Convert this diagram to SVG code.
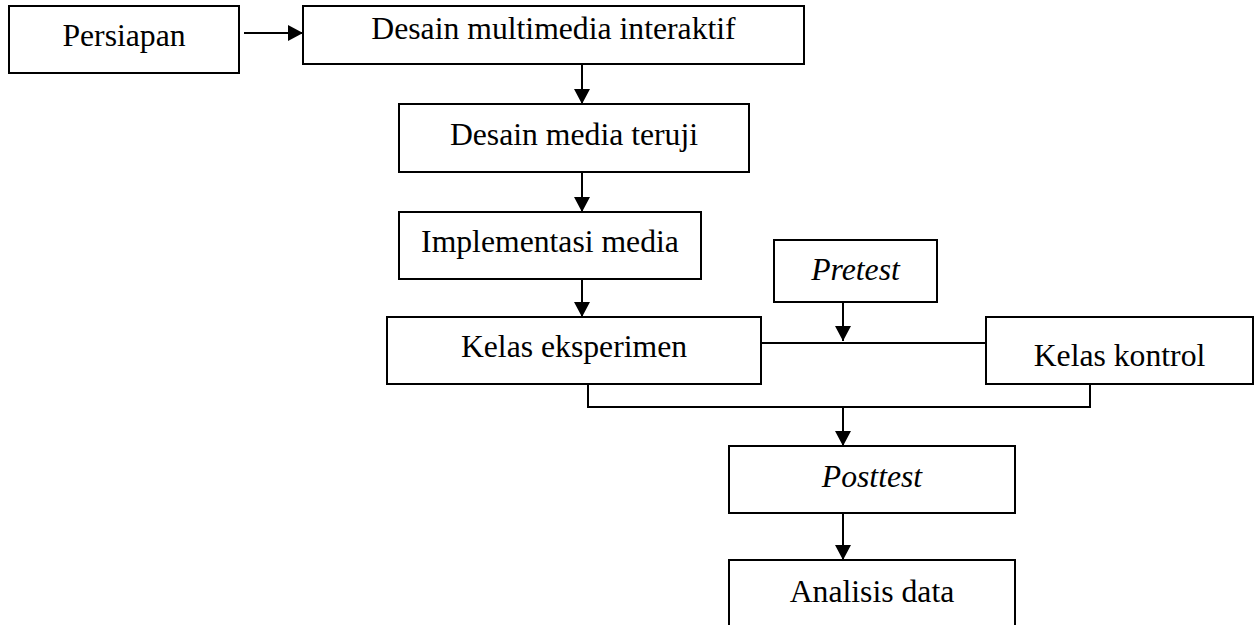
<svg xmlns="http://www.w3.org/2000/svg" width="1257" height="625" viewBox="0 0 1257 625">
<style>
.box{fill:#fff;stroke:#000;stroke-width:2}
.t{font-family:"Liberation Serif","Times New Roman",serif;font-size:31.7px;fill:#000;text-anchor:middle}
.i{font-style:italic}
.c{fill:none;stroke:#000;stroke-width:2}
</style>
<defs>
<marker id="ah" markerUnits="userSpaceOnUse" markerWidth="15" markerHeight="16" refX="15" refY="8" orient="auto">
<path d="M0,0 L15,8 L0,16 z" fill="#000"/>
</marker>
</defs>
<rect width="1257" height="625" fill="#fff"/>
<g id="connectors">
<line class="c" x1="244" y1="33" x2="303" y2="33" marker-end="url(#ah)"/>
<line class="c" x1="582" y1="64" x2="582" y2="104" marker-end="url(#ah)"/>
<line class="c" x1="582" y1="172" x2="582" y2="212" marker-end="url(#ah)"/>
<line class="c" x1="582" y1="279" x2="582" y2="317" marker-end="url(#ah)"/>
<line class="c" x1="761" y1="343" x2="986" y2="343"/>
<line class="c" x1="843" y1="302" x2="843" y2="341" marker-end="url(#ah)"/>
<path class="c" d="M588,384 V407 H1090 V384"/>
<line class="c" x1="843" y1="407" x2="843" y2="446" marker-end="url(#ah)"/>
<line class="c" x1="843" y1="513" x2="843" y2="560" marker-end="url(#ah)"/>
</g>
<g id="persiapan"><rect class="box" x="9" y="6" width="230" height="67"/><text class="t" x="124" y="46">Persiapan</text></g>
<g id="desain-multimedia"><rect class="box" x="303" y="6" width="501" height="58"/><text class="t" x="553.5" y="39">Desain multimedia interaktif</text></g>
<g id="desain-media"><rect class="box" x="399" y="104" width="350" height="68"/><text class="t" x="574" y="145">Desain media teruji</text></g>
<g id="implementasi"><rect class="box" x="399" y="212" width="302" height="67"/><text class="t" x="550" y="252">Implementasi media</text></g>
<g id="pretest"><rect class="box" x="774" y="240" width="163" height="62"/><text class="t i" x="855.5" y="280">Pretest</text></g>
<g id="kelas-eksperimen"><rect class="box" x="387" y="317" width="374" height="67"/><text class="t" x="574" y="357">Kelas eksperimen</text></g>
<g id="kelas-kontrol"><rect class="box" x="986" y="317" width="267" height="67"/><text class="t" x="1119.5" y="366">Kelas kontrol</text></g>
<g id="posttest"><rect class="box" x="729" y="446" width="286" height="67"/><text class="t i" x="872" y="487">Posttest</text></g>
<g id="analisis"><rect class="box" x="729" y="560" width="286" height="90"/><text class="t" x="872" y="602">Analisis data</text></g>
</svg>
